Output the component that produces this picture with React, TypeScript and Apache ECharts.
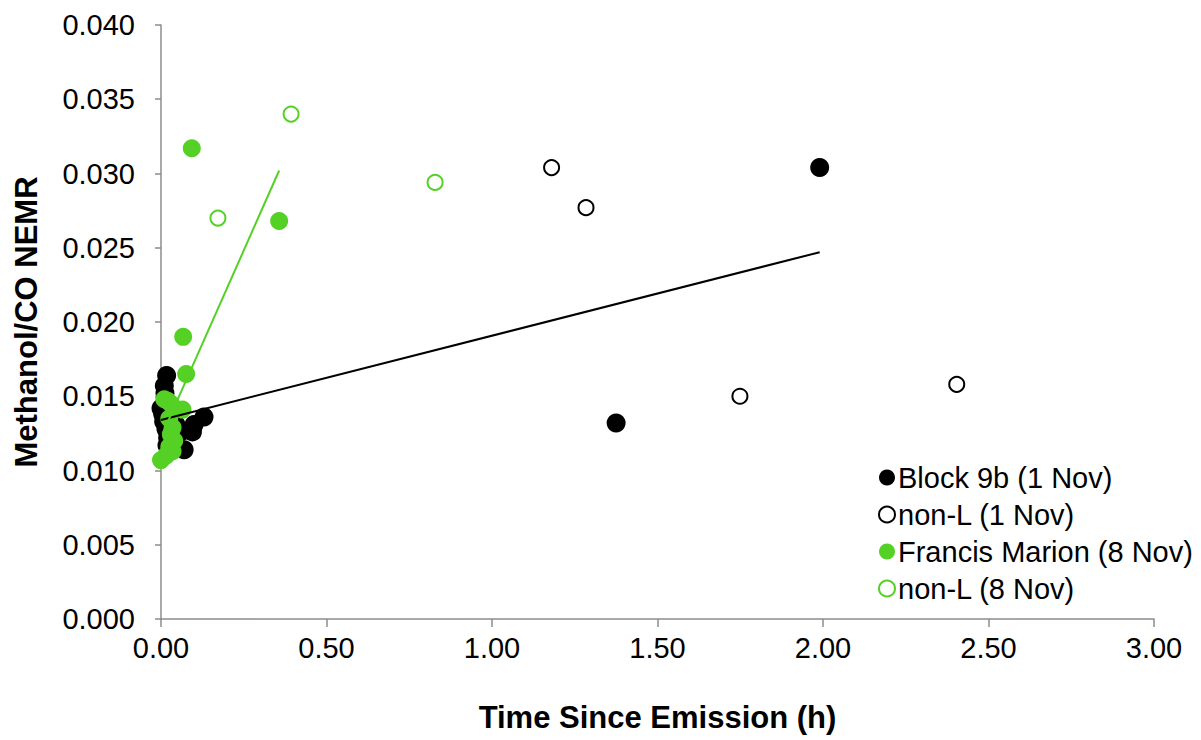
import React, { useEffect, useRef } from "react";
import * as echarts from "echarts";

const block9b: [number, number][] = [
  [0.017, 0.0164], [0.010, 0.0157], [0.012, 0.0152], [0.000, 0.0142], [0.005, 0.0138],
  [0.008, 0.0133], [0.015, 0.0128], [0.020, 0.0122], [0.018, 0.0117], [0.030, 0.0125],
  [0.045, 0.0131], [0.060, 0.0126], [0.070, 0.0114], [0.095, 0.0126], [0.100, 0.0131],
  [0.130, 0.0136], [1.375, 0.0132], [1.990, 0.0304],
];
const nonL1: [number, number][] = [
  [1.180, 0.0304], [1.284, 0.0277], [1.749, 0.0150], [2.404, 0.0158],
];
const francisMarion: [number, number][] = [
  [0.093, 0.0317], [0.357, 0.0268], [0.067, 0.0190], [0.076, 0.0165], [0.010, 0.0148],
  [0.020, 0.0147], [0.030, 0.0145], [0.040, 0.0142], [0.065, 0.0141], [0.025, 0.0135],
  [0.035, 0.0129], [0.030, 0.0124], [0.040, 0.0120], [0.025, 0.0116], [0.035, 0.0113],
  [0.015, 0.0110], [0.000, 0.0107],
];
const nonL8: [number, number][] = [
  [0.172, 0.0270], [0.393, 0.0340], [0.828, 0.0294],
];
const trendBlack: [number, number][] = [[0.0, 0.0134], [1.99, 0.0247]];
const trendGreen: [number, number][] = [[0.005, 0.0125], [0.357, 0.0302]];

const GREEN = "#55d125";
const FONT = "'Liberation Sans', Arial, sans-serif";

export default function App() {
  const ref = useRef<HTMLDivElement>(null);
  useEffect(() => {
    const chart = echarts.init(ref.current!, undefined, { renderer: "svg" });
    chart.setOption({
      animation: false,
      textStyle: { fontFamily: FONT },
      grid: { left: 161, right: 47, top: 25, bottom: 121 },
      legend: {
        orient: "vertical",
        left: 873,
        top: 458,
        itemWidth: 16,
        itemHeight: 16,
        itemGap: 8,
        icon: "circle",
        textStyle: { fontSize: 29, color: "#000", fontFamily: FONT, padding: [0, 0, 0, -2] },
        data: ["Block 9b (1 Nov)", "non-L (1 Nov)", "Francis Marion (8 Nov)", "non-L (8 Nov)"],
      },
      xAxis: {
        type: "value",
        min: 0,
        max: 3,
        interval: 0.5,
        name: "Time Since Emission (h)",
        nameLocation: "middle",
        nameGap: 83,
        nameTextStyle: { fontSize: 31, fontWeight: "bold", color: "#000", fontFamily: FONT },
        axisLine: { show: true, lineStyle: { color: "#8c8c8c", width: 1.5 } },
        axisTick: { show: true, length: 8, lineStyle: { color: "#8c8c8c", width: 1.5 } },
        axisLabel: { fontSize: 29, color: "#000", margin: 14, formatter: (v: number) => v.toFixed(2) },
        splitLine: { show: false },
      },
      yAxis: {
        type: "value",
        min: 0,
        max: 0.04,
        interval: 0.005,
        name: "Methanol/CO NEMR",
        nameLocation: "middle",
        nameGap: 119,
        nameRotate: 90,
        nameTextStyle: { fontSize: 31, fontWeight: "bold", color: "#000", fontFamily: FONT },
        axisLine: { show: true, lineStyle: { color: "#8c8c8c", width: 1.5 } },
        axisTick: { show: true, length: 6, lineStyle: { color: "#8c8c8c", width: 1.5 } },
        axisLabel: { fontSize: 29, color: "#000", margin: 26, formatter: (v: number) => v.toFixed(3) },
        splitLine: { show: false },
      },
      series: [
        {
          name: "Block 9b (1 Nov)",
          type: "scatter",
          data: block9b,
          symbol: "circle",
          symbolSize: 19,
          itemStyle: { color: "#000", opacity: 1 },
          z: 2,
        },
        {
          name: "non-L (1 Nov)",
          type: "scatter",
          data: nonL1,
          symbol: "circle",
          symbolSize: 15,
          itemStyle: { color: "#fff", borderColor: "#000", borderWidth: 2, opacity: 1 },
          z: 2,
        },
        {
          name: "Francis Marion (8 Nov)",
          type: "scatter",
          data: francisMarion,
          symbol: "circle",
          symbolSize: 18,
          itemStyle: { color: GREEN, opacity: 1 },
          z: 3,
        },
        {
          name: "non-L (8 Nov)",
          type: "scatter",
          data: nonL8,
          symbol: "circle",
          symbolSize: 15,
          itemStyle: { color: "#fff", borderColor: GREEN, borderWidth: 2, opacity: 1 },
          z: 3,
        },
        {
          name: "trendBlack",
          type: "line",
          data: trendBlack,
          symbol: "none",
          lineStyle: { color: "#000", width: 2 },
          z: 4,
        },
        {
          name: "trendGreen",
          type: "line",
          data: trendGreen,
          symbol: "none",
          lineStyle: { color: GREEN, width: 2 },
          z: 4,
        },
      ],
    });
    return () => chart.dispose();
  }, []);
  return (
    <div
      ref={ref}
      style={{ position: "absolute", left: 0, top: 0, width: 1201, height: 740 }}
    />
  );
}
